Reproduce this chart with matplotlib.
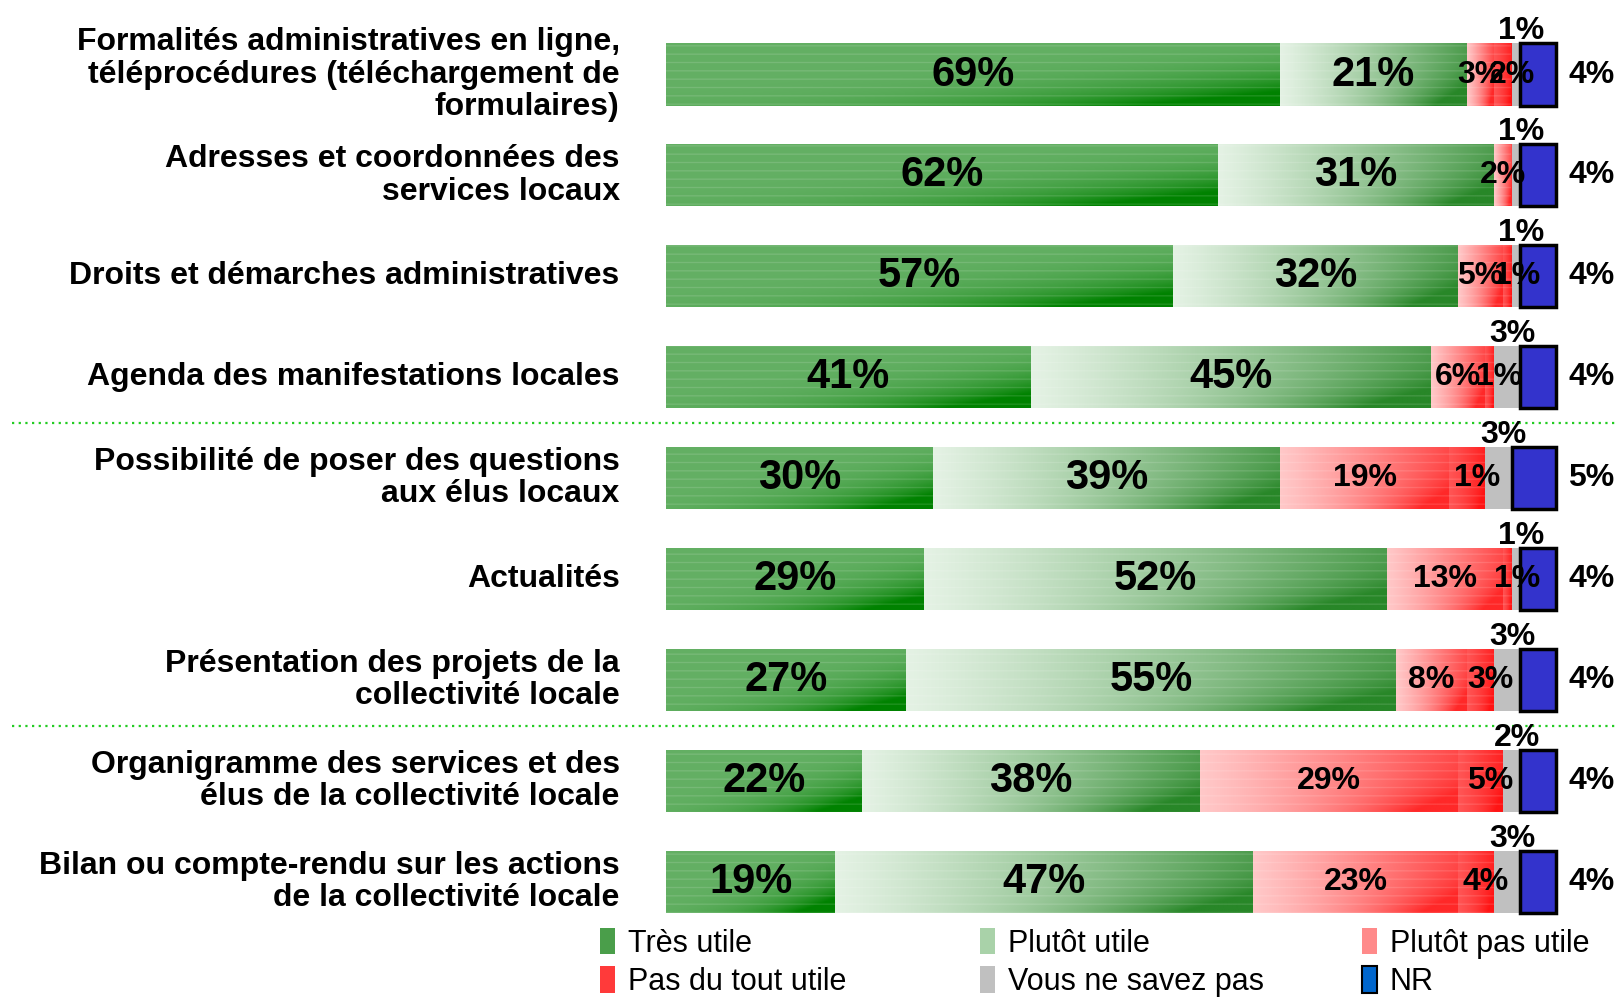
import numpy as np
import matplotlib
matplotlib.use('Agg')
import matplotlib.pyplot as plt
from matplotlib import font_manager
from matplotlib.patches import Patch

# ---------------- data ----------------
categories = [
    "Formalités administratives en ligne,\ntéléprocédures (téléchargement de\nformulaires)",
    "Adresses et coordonnées des\nservices locaux",
    "Droits et démarches administratives",
    "Agenda des manifestations locales",
    "Possibilité de poser des questions\naux élus locaux",
    "Actualités",
    "Présentation des projets de la\ncollectivité locale",
    "Organigramme des services et des\nélus de la collectivité locale",
    "Bilan ou compte-rendu sur les actions\nde la collectivité locale",
]
tres_utile = [69, 62, 57, 41, 30, 29, 27, 22, 19]
plutot_utile = [21, 31, 32, 45, 39, 52, 55, 38, 47]
plutot_pas_utile = [3, 2, 5, 6, 19, 13, 8, 29, 23]
pas_du_tout_utile = [2, 0, 1, 1, 4, 1, 3, 5, 4]
ne_savez_pas = [1, 1, 1, 3, 3, 1, 3, 2, 3]
nr = [4, 4, 4, 4, 5, 4, 4, 4, 4]
# labels printed in the chart for "Pas du tout utile" (as shown in the source)
pas_du_tout_labels = ["2%", "", "1%", "1%", "1%", "1%", "3%", "5%", "4%"]
series_names = ["Très utile", "Plutôt utile", "Plutôt pas utile",
                "Pas du tout utile", "Vous ne savez pas", "NR"]

# ---------------- fonts ----------------
names = {f.name for f in font_manager.fontManager.ttflist}
main_font = "Liberation Sans Narrow" if "Liberation Sans Narrow" in names else "Liberation Sans"
plt.rcParams['font.family'] = [main_font, 'DejaVu Sans']

# ---------------- layout ----------------
W, H = 1618, 997
X0, PX = 666.0, 8.9          # pixel of x=0, pixels per percent
Y0, RS = 74.5, 100.9         # pixel of first row center, row spacing
BAR_H = 0.615

fig = plt.figure(figsize=(W / 100, H / 100), dpi=100)
ax = fig.add_axes([0, 0, 1, 1])
ax.set_axis_off()
xmin, xmax = -X0 / PX, (W - X0) / PX
ymin, ymax = (H - Y0) / RS, -Y0 / RS

y = np.arange(len(categories))

def grad_fill(rect, c0, c1, kind):
    x, yb, w, h = rect.get_x(), rect.get_y(), rect.get_width(), rect.get_height()
    if w <= 0:
        return
    nx, ny = 80, 30
    xf = np.linspace(0, 1, nx)[None, :]
    yf = np.linspace(0, 1, ny)[:, None]
    if kind == 'dark':
        t = np.clip(((xf + yf) / 2.0) ** 5 * 1.8, 0, 1)
    else:
        t = np.clip(xf ** 1.1 * 0.8 + (xf * yf) ** 3 * 0.6, 0, 1)
    c0 = np.array(c0) / 255.0
    c1 = np.array(c1) / 255.0
    img = c0[None, None, :] + (c1 - c0)[None, None, :] * t[..., None]
    im = ax.imshow(img, extent=[x, x + w, yb + h, yb], aspect='auto',
                   interpolation='bilinear', zorder=2)
    im.set_clip_path(rect)

series = [tres_utile, plutot_utile, plutot_pas_utile, pas_du_tout_utile, ne_savez_pas, nr]
styles = [
    dict(c0=(100, 176, 100), c1=(0, 130, 0), kind='dark', solid=None),
    dict(c0=(228, 242, 228), c1=(40, 135, 40), kind='light', solid=None),
    dict(c0=(255, 200, 200), c1=(255, 40, 40), kind='light', solid=None),
    dict(c0=(255, 85, 85), c1=(255, 20, 20), kind='light', solid=None),
    dict(c0=None, c1=None, kind=None, solid='#c0c0c0'),
    dict(c0=None, c1=None, kind=None, solid='#3333cc'),
]

left = np.zeros(len(categories))
lefts = []
for vals, st in zip(series, styles):
    vals = np.array(vals, dtype=float)
    lefts.append(left.copy())
    if st['solid'] is not None:
        is_nr = st['solid'] == '#3333cc'
        ax.barh(y, vals, left=left, height=BAR_H, color=st['solid'],
                edgecolor='black' if is_nr else 'none',
                linewidth=2.5 if is_nr else 0, zorder=3)
    else:
        bars = ax.barh(y, vals, left=left, height=BAR_H, color='none',
                       edgecolor='none', linewidth=0, zorder=1)
        for r in bars:
            grad_fill(r, st['c0'], st['c1'], st['kind'])
        ax.barh(y, vals, left=left, height=BAR_H, color='none',
                edgecolor=(1, 1, 1, 0.13), linewidth=0, hatch='--', zorder=2.5)
    left = left + vals

# ---------------- value labels ----------------
big = 30
small = 23
for i in range(len(categories)):
    for k in (0, 1):
        v = series[k][i]
        ax.text(lefts[k][i] + v / 2, i, f"{v}%", ha='center', va='center',
                fontsize=big, fontweight='bold', zorder=5)
    v = plutot_pas_utile[i]
    ax.text(lefts[2][i] + v / 2, i, f"{v}%", ha='center', va='center',
            fontsize=small, fontweight='bold', zorder=5)
    lab = pas_du_tout_labels[i]
    if lab:
        v = pas_du_tout_utile[i]
        ax.text(lefts[3][i] + v / 2 + 1.1, i, lab, ha='center', va='center',
                fontsize=small, fontweight='bold', zorder=5)
    v = ne_savez_pas[i]
    ax.text(lefts[4][i] + v / 2 + 0.6, i - BAR_H / 2 - 0.04, f"{v}%", ha='center',
            va='baseline', fontsize=small, fontweight='bold', zorder=5)
    ax.text(104.0, i, f"{nr[i]}%", ha='center', va='center',
            fontsize=small, fontweight='bold', zorder=5)
    ax.text(-5.2, i, categories[i], ha='right', va='center', multialignment='right',
            fontsize=23, fontweight='bold', linespacing=1.1)

# ---------------- separators ----------------
for sy in (3.455, 6.456):
    ax.plot([(12 - X0) / PX, xmax], [sy, sy], color='#22cc22', lw=1.6,
            ls=(0, (1, 2)), zorder=0)

ax.set_xlim(xmin, xmax)
ax.set_ylim(ymin, ymax)

# ---------------- legend (three fixed columns) ----------------
leg_colors = {"Très utile": '#4a9e4a', "Plutôt utile": '#a9d2a9',
              "Plutôt pas utile": '#ff8a8a', "Pas du tout utile": '#ff3a3a',
              "Vous ne savez pas": '#c0c0c0', "NR": '#0066cc'}
columns = [[0, 3], [1, 4], [2, 5]]
col_x = [600, 980, 1362]
for cx, col in zip(col_x, columns):
    hs = []
    for j in col:
        n = series_names[j]
        hs.append(Patch(facecolor=leg_colors[n],
                        edgecolor='black' if n == 'NR' else 'none',
                        linewidth=1.5 if n == 'NR' else 0, label=n))
    leg = fig.legend(handles=hs, ncol=1, loc='upper left',
                     bbox_to_anchor=(cx / W, 1 - 928 / H), frameon=False, fontsize=22,
                     handlelength=0.5, handleheight=0.95, handletextpad=0.4,
                     labelspacing=0.25, borderpad=0, borderaxespad=0)

fig.savefig('out.png', dpi=100)
